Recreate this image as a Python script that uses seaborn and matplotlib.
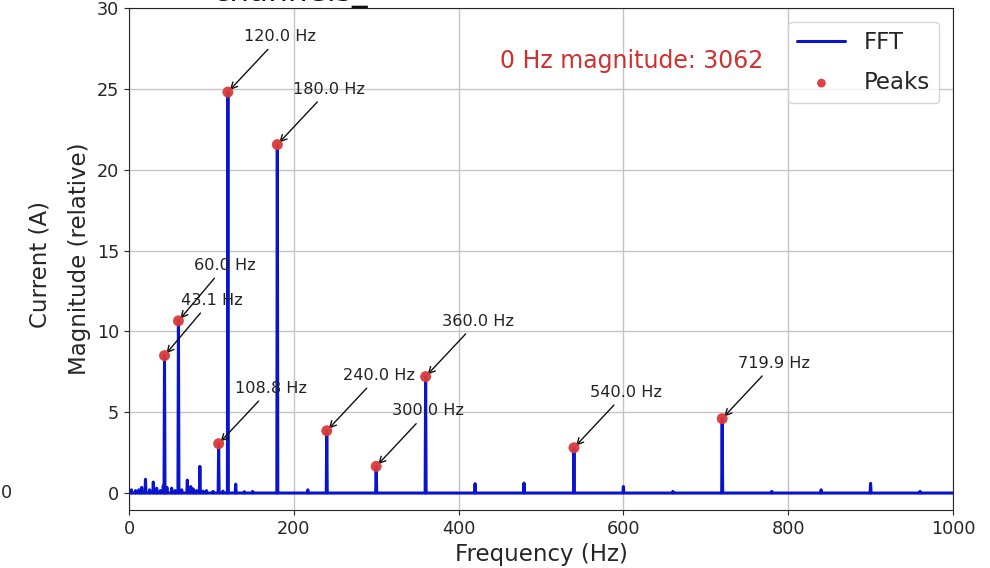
import matplotlib
matplotlib.use("Agg")
import matplotlib.pyplot as plt
import numpy as np
import pandas as pd
import seaborn as sns

# Detected peaks of the current spectrum (frequency in Hz, relative magnitude)
peak_freqs = [43.1, 60.0, 108.8, 120.0, 180.0, 240.0, 300.0, 360.0, 540.0, 719.9]
peak_mags = [8.5, 10.65, 3.05, 24.8, 21.55, 3.85, 1.65, 7.2, 2.8, 4.6]

# Smaller spectral lines that were not flagged as peaks
minor_freqs = [3.0, 8.0, 12.0, 15.4, 20.0, 25.0, 29.5, 33.6, 38.0, 41.6, 46.0,
               51.8, 56.0, 64.0, 70.8, 75.0, 78.0, 82.0, 86.0, 90.0, 94.0,
               102.0, 114.0, 129.5, 140.0, 150.0, 217.0, 420.0, 479.4, 600.0,
               660.0, 780.0, 840.0, 900.0, 960.0]
minor_mags = [0.2, 0.15, 0.2, 0.35, 0.85, 0.2, 0.68, 0.3, 0.15, 0.45, 0.35,
              0.3, 0.15, 0.2, 0.8, 0.4, 0.25, 0.15, 1.65, 0.12, 0.15,
              0.1, 0.12, 0.55, 0.08, 0.1, 0.2, 0.58, 0.62, 0.4,
              0.1, 0.1, 0.2, 0.6, 0.1]

dc_magnitude = 3062
freq_ticks = [0, 200, 400, 600, 800, 1000]
mag_ticks = [0, 5, 10, 15, 20, 25, 30]

# Assemble the spectrum trace: each line rises from the zero floor
lines = sorted(zip(peak_freqs + minor_freqs, peak_mags + minor_mags))
half_bin = 0.6
trace_f, trace_m = [0.0], [0.0]
for f, m in lines:
    trace_f += [f - half_bin, f, f + half_bin]
    trace_m += [0.0, m, 0.0]
trace_f.append(1000.0)
trace_m.append(0.0)
spectrum = pd.DataFrame({"freq": trace_f, "mag": trace_m})
peaks = pd.DataFrame({"freq": peak_freqs, "mag": peak_mags})

sns.set_style("ticks")
plt.rcParams["font.family"] = ["DejaVu Sans"]

fig = plt.figure(figsize=(9.9, 5.68), dpi=100)
ax = fig.add_axes([0.1303, 0.1021, 0.8323, 0.8838])

sns.lineplot(data=spectrum, x="freq", y="mag", ax=ax, color="#0a14cc",
             lw=2.2, estimator=None, sort=False, label="FFT")
sns.scatterplot(data=peaks, x="freq", y="mag", ax=ax, color="#d93a3a",
                s=62, edgecolor="none", alpha=0.95, zorder=4, label="Peaks")

for f, m in zip(peak_freqs, peak_mags):
    ax.annotate(f"{f:.1f} Hz", xy=(f, m), xytext=(16, 51),
                textcoords="offset pixels", fontsize=11.6, color="#222222",
                arrowprops=dict(arrowstyle="->", color="#111111", lw=1.0))

ax.text(0.61, 0.895, f"0 Hz magnitude: {dc_magnitude}", transform=ax.transAxes,
        ha="center", va="center", fontsize=17, color="#d03030")

ax.set_xlim(0, 1000)
ax.set_ylim(-1.05, 30)
ax.set_xticks(freq_ticks)
ax.set_yticks(mag_ticks)
ax.tick_params(labelsize=12.7)
ax.grid(True, color="#c4c4c4", lw=1.0)
ax.set_axisbelow(True)
for side in ["top", "right"]:
    ax.spines[side].set_visible(True)
ax.set_xlabel("Frequency (Hz)", fontsize=16.5)
ax.set_ylabel("Magnitude (relative)", fontsize=16.5)
ax.legend(loc="upper right", fontsize=16.5, handlelength=2.1,
          labelspacing=0.75, markerscale=0.8, borderaxespad=0.6)

# Neighbouring panel's labels and the figure title
fig.text(40 / 990, 1 - 265 / 568, "Current (A)", rotation=90, fontsize=16.5,
         ha="center", va="center", color="#262626")
fig.text(12 / 990, 1 - 493 / 568, "0", fontsize=12.7, ha="right", va="center",
         color="#262626")
fig.text(212 / 990, 1 - 0.5 / 568, "channels_", fontsize=22.5, ha="left",
         va="baseline", color="#111111")

fig.savefig("out.png", dpi=100)
